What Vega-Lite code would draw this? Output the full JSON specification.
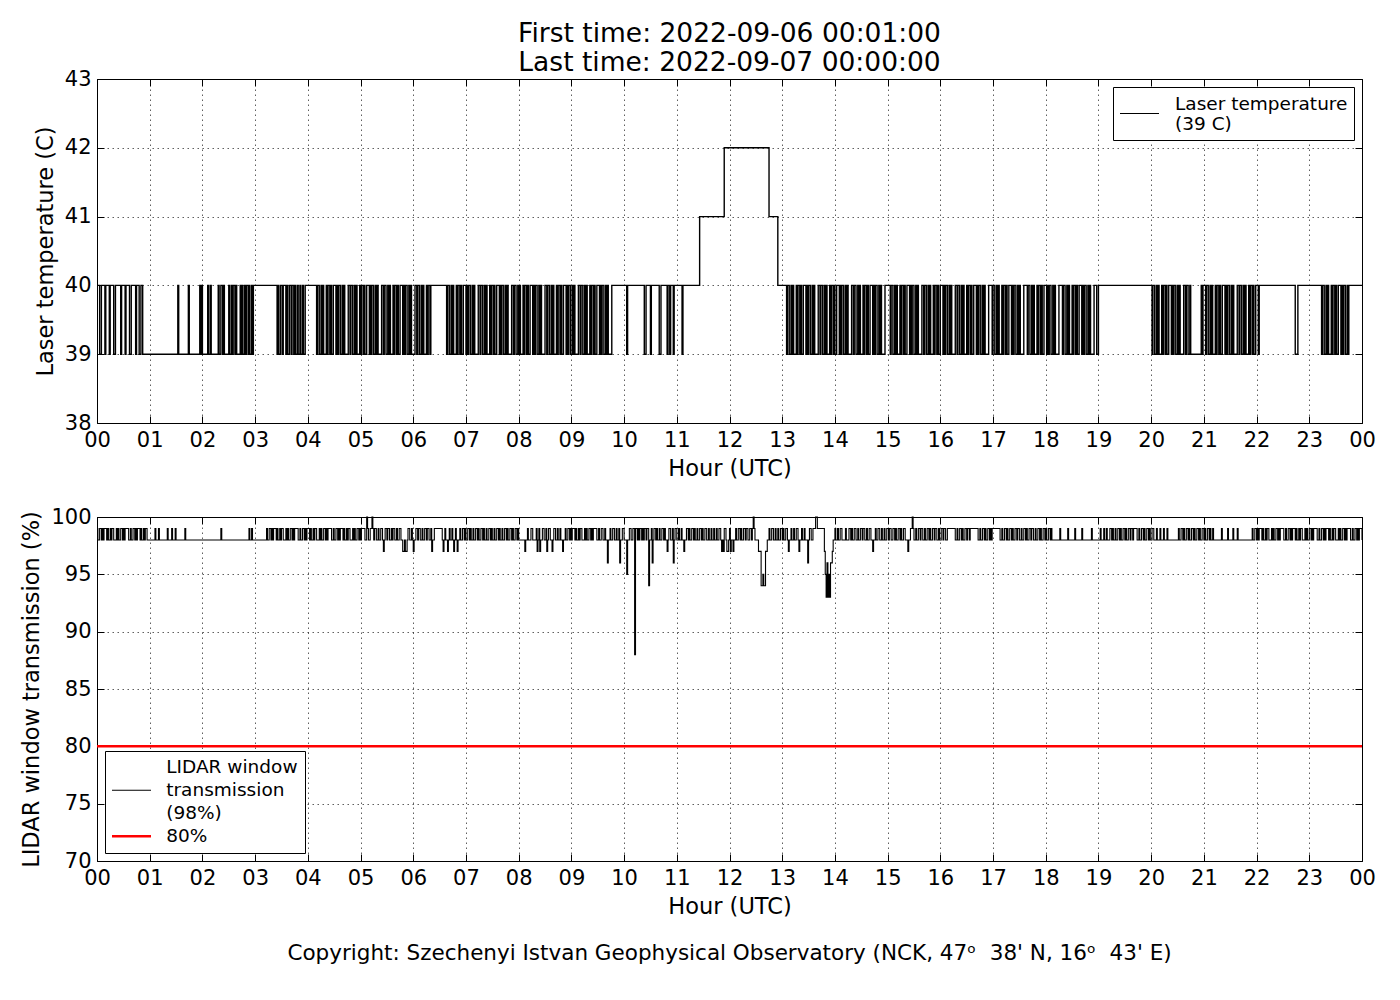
{
  "$schema": "https://vega.github.io/schema/vega-lite/v6.json",
  "background": "white",
  "padding": {"left": 20, "top": 20, "right": 30, "bottom": 20},
  "config": {
    "font": "DejaVu Sans",
    "view": {"stroke": "black", "strokeWidth": 1},
    "axis": {
      "domain": false, "ticks": true, "tickColor": "black", "tickSize": -7, "tickWidth": 1,
      "labelFontSize": 21, "labelColor": "black", "labelPadding": 13, "labelFlush": false, "labelOverlap": false,
      "titleFontSize": 22.5, "titleFontWeight": "normal", "titleColor": "black", "titlePadding": 7,
      "grid": true, "gridColor": "black", "gridDash": [1.5, 3.5], "gridWidth": 0.7, "gridOpacity": 0.9
    },
    "legend": {
      "labelFontSize": 18.5, "labelColor": "black", "labelLimit": 0, "symbolType": "stroke", "symbolSize": 1521,
      "labelOffset": 15, "padding": 6, "strokeColor": "black", "fillColor": "white", "cornerRadius": 0, "offset": 8
    },
    "title": {"fontWeight": "normal", "color": "black", "anchor": "middle"}
  },
  "datasets": {
    "temp": [
      {"m":0,"t":40},{"m":3,"t":39},{"m":5,"t":40},{"m":9,"t":39},{"m":10,"t":40},{"m":14,"t":39},{"m":15,"t":40},{"m":19,"t":39},{"m":21,"t":40},{"m":27,"t":39},{"m":28,"t":40},{"m":32,"t":39},{"m":33,"t":40},{"m":37,"t":39},{"m":39,"t":40},{"m":44,"t":39},{"m":45,"t":40},{"m":48,"t":39},{"m":50,"t":40},{"m":52,"t":39},
      {"m":92,"t":40},{"m":93,"t":39},{"m":104,"t":40},{"m":105,"t":39},{"m":117,"t":40},{"m":118,"t":39},{"m":119,"t":40},{"m":120,"t":39},{"m":126,"t":40},{"m":127,"t":39},{"m":129,"t":40},{"m":130,"t":39},{"m":138,"t":40},{"m":139,"t":39},{"m":141,"t":40},{"m":143,"t":39},{"m":144,"t":40},{"m":145,"t":39},{"m":150,"t":40},{"m":151,"t":39},{"m":153,"t":40},{"m":154,"t":39},{"m":155,"t":40},{"m":157,"t":39},{"m":158,"t":40},{"m":159,"t":39},{"m":163,"t":40},{"m":164,"t":39},{"m":165,"t":40},{"m":166,"t":39},{"m":168,"t":40},{"m":169,"t":39},{"m":170,"t":40},{"m":172,"t":39},{"m":173,"t":40},{"m":174,"t":39},{"m":176,"t":40},{"m":177,"t":39},{"m":178,"t":40},
      {"m":205,"t":39},{"m":206,"t":40},{"m":207,"t":39},{"m":209,"t":40},{"m":211,"t":39},{"m":212,"t":40},{"m":215,"t":39},{"m":216,"t":40},{"m":217,"t":39},{"m":219,"t":40},{"m":221,"t":39},{"m":222,"t":40},{"m":224,"t":39},{"m":225,"t":40},{"m":226,"t":39},{"m":228,"t":40},{"m":229,"t":39},{"m":231,"t":40},{"m":232,"t":39},{"m":234,"t":40},{"m":235,"t":39},{"m":237,"t":40},
      {"m":250,"t":39},{"m":251,"t":40},{"m":253,"t":39},{"m":255,"t":40},{"m":256,"t":39},{"m":257,"t":40},{"m":258,"t":39},{"m":261,"t":40},{"m":262,"t":39},{"m":263,"t":40},{"m":265,"t":39},{"m":266,"t":40},{"m":267,"t":39},{"m":269,"t":40},{"m":272,"t":39},{"m":273,"t":40},{"m":274,"t":39},{"m":275,"t":40},{"m":277,"t":39},{"m":279,"t":40},{"m":280,"t":39},{"m":281,"t":40},{"m":282,"t":39},{"m":286,"t":40},
      {"m":288,"t":39},{"m":289,"t":40},{"m":291,"t":39},{"m":293,"t":40},{"m":294,"t":39},{"m":295,"t":40},{"m":296,"t":39},{"m":299,"t":40},{"m":300,"t":39},{"m":301,"t":40},{"m":303,"t":39},{"m":304,"t":40},{"m":305,"t":39},{"m":307,"t":40},{"m":310,"t":39},{"m":311,"t":40},{"m":312,"t":39},{"m":313,"t":40},{"m":315,"t":39},{"m":317,"t":40},{"m":318,"t":39},{"m":319,"t":40},{"m":320,"t":39},{"m":324,"t":40},
      {"m":326,"t":39},{"m":327,"t":40},{"m":329,"t":39},{"m":331,"t":40},{"m":332,"t":39},{"m":333,"t":40},{"m":334,"t":39},{"m":337,"t":40},{"m":338,"t":39},{"m":339,"t":40},{"m":341,"t":39},{"m":342,"t":40},{"m":343,"t":39},{"m":345,"t":40},{"m":348,"t":39},{"m":349,"t":40},{"m":350,"t":39},{"m":351,"t":40},{"m":353,"t":39},{"m":355,"t":40},{"m":356,"t":39},{"m":357,"t":40},{"m":358,"t":39},{"m":362,"t":40},
      {"m":364,"t":39},{"m":365,"t":40},{"m":367,"t":39},{"m":369,"t":40},{"m":370,"t":39},{"m":371,"t":40},{"m":372,"t":39},{"m":375,"t":40},{"m":376,"t":39},{"m":377,"t":40},{"m":379,"t":39},{"m":380,"t":40},
      {"m":398,"t":39},{"m":399,"t":40},{"m":401,"t":39},{"m":403,"t":40},{"m":404,"t":39},{"m":405,"t":40},{"m":406,"t":39},{"m":409,"t":40},{"m":410,"t":39},{"m":411,"t":40},{"m":413,"t":39},{"m":414,"t":40},{"m":415,"t":39},{"m":417,"t":40},{"m":420,"t":39},{"m":421,"t":40},{"m":422,"t":39},{"m":423,"t":40},{"m":425,"t":39},{"m":427,"t":40},{"m":428,"t":39},{"m":429,"t":40},{"m":430,"t":39},{"m":434,"t":40},
      {"m":436,"t":39},{"m":437,"t":40},{"m":439,"t":39},{"m":441,"t":40},{"m":442,"t":39},{"m":443,"t":40},{"m":444,"t":39},{"m":447,"t":40},{"m":448,"t":39},{"m":449,"t":40},{"m":451,"t":39},{"m":452,"t":40},{"m":453,"t":39},{"m":455,"t":40},{"m":458,"t":39},{"m":459,"t":40},{"m":460,"t":39},{"m":461,"t":40},{"m":463,"t":39},{"m":465,"t":40},{"m":466,"t":39},{"m":467,"t":40},{"m":468,"t":39},{"m":472,"t":40},
      {"m":474,"t":39},{"m":475,"t":40},{"m":477,"t":39},{"m":479,"t":40},{"m":480,"t":39},{"m":481,"t":40},{"m":482,"t":39},{"m":485,"t":40},{"m":486,"t":39},{"m":487,"t":40},{"m":489,"t":39},{"m":490,"t":40},{"m":491,"t":39},{"m":493,"t":40},{"m":496,"t":39},{"m":497,"t":40},{"m":498,"t":39},{"m":499,"t":40},{"m":501,"t":39},{"m":503,"t":40},{"m":504,"t":39},{"m":505,"t":40},{"m":506,"t":39},{"m":510,"t":40},
      {"m":512,"t":39},{"m":513,"t":40},{"m":515,"t":39},{"m":517,"t":40},{"m":518,"t":39},{"m":519,"t":40},{"m":520,"t":39},{"m":523,"t":40},{"m":524,"t":39},{"m":525,"t":40},{"m":527,"t":39},{"m":528,"t":40},{"m":529,"t":39},{"m":531,"t":40},{"m":534,"t":39},{"m":535,"t":40},{"m":536,"t":39},{"m":537,"t":40},{"m":539,"t":39},{"m":541,"t":40},{"m":542,"t":39},{"m":543,"t":40},{"m":544,"t":39},{"m":548,"t":40},
      {"m":550,"t":39},{"m":551,"t":40},{"m":553,"t":39},{"m":555,"t":40},{"m":556,"t":39},{"m":557,"t":40},{"m":558,"t":39},{"m":561,"t":40},{"m":562,"t":39},{"m":563,"t":40},{"m":565,"t":39},{"m":566,"t":40},{"m":567,"t":39},{"m":569,"t":40},{"m":572,"t":39},{"m":573,"t":40},{"m":574,"t":39},{"m":575,"t":40},{"m":577,"t":39},{"m":579,"t":40},{"m":580,"t":39},{"m":581,"t":40},{"m":582,"t":39},{"m":586,"t":40},
      {"m":603,"t":39},{"m":604,"t":40},{"m":623,"t":39},{"m":625,"t":40},{"m":630,"t":39},{"m":631,"t":40},{"m":640,"t":39},{"m":642,"t":40},{"m":649,"t":39},{"m":650,"t":40},{"m":652,"t":39},{"m":653,"t":40},{"m":656,"t":39},{"m":657,"t":40},{"m":666,"t":39},{"m":667,"t":40},
      {"m":686,"t":41},{"m":714,"t":42},{"m":765,"t":41},{"m":775,"t":40},
      {"m":785,"t":39},{"m":786,"t":40},{"m":788,"t":39},{"m":790,"t":40},{"m":791,"t":39},{"m":792,"t":40},{"m":793,"t":39},{"m":796,"t":40},{"m":797,"t":39},{"m":798,"t":40},{"m":800,"t":39},{"m":801,"t":40},{"m":802,"t":39},{"m":804,"t":40},{"m":807,"t":39},{"m":808,"t":40},{"m":809,"t":39},{"m":810,"t":40},{"m":812,"t":39},{"m":814,"t":40},{"m":815,"t":39},{"m":816,"t":40},{"m":817,"t":39},{"m":821,"t":40},
      {"m":823,"t":39},{"m":824,"t":40},{"m":826,"t":39},{"m":828,"t":40},{"m":829,"t":39},{"m":830,"t":40},{"m":831,"t":39},{"m":834,"t":40},{"m":835,"t":39},{"m":836,"t":40},{"m":838,"t":39},{"m":839,"t":40},{"m":840,"t":39},{"m":842,"t":40},{"m":845,"t":39},{"m":846,"t":40},{"m":847,"t":39},{"m":848,"t":40},{"m":850,"t":39},{"m":852,"t":40},{"m":853,"t":39},{"m":854,"t":40},{"m":855,"t":39},{"m":859,"t":40},
      {"m":861,"t":39},{"m":862,"t":40},{"m":864,"t":39},{"m":866,"t":40},{"m":867,"t":39},{"m":868,"t":40},{"m":869,"t":39},{"m":872,"t":40},{"m":873,"t":39},{"m":874,"t":40},{"m":876,"t":39},{"m":877,"t":40},{"m":878,"t":39},{"m":880,"t":40},{"m":883,"t":39},{"m":884,"t":40},{"m":885,"t":39},{"m":886,"t":40},{"m":888,"t":39},{"m":890,"t":40},{"m":891,"t":39},{"m":892,"t":40},{"m":893,"t":39},{"m":897,"t":40},
      {"m":903,"t":39},{"m":904,"t":40},{"m":906,"t":39},{"m":908,"t":40},{"m":909,"t":39},{"m":910,"t":40},{"m":911,"t":39},{"m":914,"t":40},{"m":915,"t":39},{"m":916,"t":40},{"m":918,"t":39},{"m":919,"t":40},{"m":920,"t":39},{"m":922,"t":40},{"m":925,"t":39},{"m":926,"t":40},{"m":927,"t":39},{"m":928,"t":40},{"m":930,"t":39},{"m":932,"t":40},{"m":933,"t":39},{"m":934,"t":40},{"m":935,"t":39},{"m":939,"t":40},
      {"m":941,"t":39},{"m":942,"t":40},{"m":944,"t":39},{"m":946,"t":40},{"m":947,"t":39},{"m":948,"t":40},{"m":949,"t":39},{"m":952,"t":40},{"m":953,"t":39},{"m":954,"t":40},{"m":956,"t":39},{"m":957,"t":40},{"m":958,"t":39},{"m":960,"t":40},{"m":963,"t":39},{"m":964,"t":40},{"m":965,"t":39},{"m":966,"t":40},{"m":968,"t":39},{"m":970,"t":40},{"m":971,"t":39},{"m":972,"t":40},{"m":973,"t":39},{"m":977,"t":40},
      {"m":979,"t":39},{"m":980,"t":40},{"m":982,"t":39},{"m":984,"t":40},{"m":985,"t":39},{"m":986,"t":40},{"m":987,"t":39},{"m":990,"t":40},{"m":991,"t":39},{"m":992,"t":40},{"m":994,"t":39},{"m":995,"t":40},{"m":996,"t":39},{"m":998,"t":40},{"m":1001,"t":39},{"m":1002,"t":40},{"m":1003,"t":39},{"m":1004,"t":40},{"m":1006,"t":39},{"m":1008,"t":40},{"m":1009,"t":39},{"m":1010,"t":40},{"m":1011,"t":39},{"m":1015,"t":40},
      {"m":1019,"t":39},{"m":1020,"t":40},{"m":1022,"t":39},{"m":1024,"t":40},{"m":1025,"t":39},{"m":1026,"t":40},{"m":1027,"t":39},{"m":1030,"t":40},{"m":1031,"t":39},{"m":1032,"t":40},{"m":1034,"t":39},{"m":1035,"t":40},{"m":1036,"t":39},{"m":1038,"t":40},{"m":1041,"t":39},{"m":1042,"t":40},{"m":1043,"t":39},{"m":1044,"t":40},{"m":1046,"t":39},{"m":1048,"t":40},{"m":1049,"t":39},{"m":1050,"t":40},{"m":1051,"t":39},{"m":1055,"t":40},
      {"m":1059,"t":39},{"m":1060,"t":40},{"m":1062,"t":39},{"m":1064,"t":40},{"m":1065,"t":39},{"m":1066,"t":40},{"m":1067,"t":39},{"m":1070,"t":40},{"m":1071,"t":39},{"m":1072,"t":40},{"m":1074,"t":39},{"m":1075,"t":40},{"m":1076,"t":39},{"m":1078,"t":40},{"m":1081,"t":39},{"m":1082,"t":40},{"m":1083,"t":39},{"m":1084,"t":40},{"m":1086,"t":39},{"m":1088,"t":40},{"m":1089,"t":39},{"m":1090,"t":40},{"m":1091,"t":39},{"m":1095,"t":40},
      {"m":1099,"t":39},{"m":1100,"t":40},{"m":1102,"t":39},{"m":1104,"t":40},{"m":1105,"t":39},{"m":1106,"t":40},{"m":1107,"t":39},{"m":1110,"t":40},{"m":1111,"t":39},{"m":1112,"t":40},{"m":1114,"t":39},{"m":1115,"t":40},{"m":1116,"t":39},{"m":1118,"t":40},{"m":1121,"t":39},{"m":1122,"t":40},{"m":1123,"t":39},{"m":1124,"t":40},{"m":1126,"t":39},{"m":1128,"t":40},{"m":1129,"t":39},{"m":1130,"t":40},{"m":1131,"t":39},{"m":1135,"t":40},{"m":1138,"t":39},{"m":1140,"t":40},
      {"m":1201,"t":39},{"m":1202,"t":40},{"m":1204,"t":39},{"m":1206,"t":40},{"m":1207,"t":39},{"m":1208,"t":40},{"m":1209,"t":39},{"m":1212,"t":40},{"m":1213,"t":39},{"m":1214,"t":40},{"m":1216,"t":39},{"m":1217,"t":40},{"m":1218,"t":39},{"m":1220,"t":40},{"m":1223,"t":39},{"m":1224,"t":40},{"m":1225,"t":39},{"m":1226,"t":40},{"m":1228,"t":39},{"m":1230,"t":40},{"m":1231,"t":39},{"m":1232,"t":40},{"m":1233,"t":39},{"m":1237,"t":40},
      {"m":1239,"t":39},{"m":1240,"t":40},{"m":1242,"t":39},{"m":1244,"t":40},{"m":1245,"t":39},{"m":1257,"t":40},{"m":1258,"t":39},{"m":1259,"t":40},
      {"m":1262,"t":39},{"m":1263,"t":40},{"m":1265,"t":39},{"m":1267,"t":40},{"m":1268,"t":39},{"m":1269,"t":40},{"m":1270,"t":39},{"m":1273,"t":40},{"m":1274,"t":39},{"m":1275,"t":40},{"m":1277,"t":39},{"m":1278,"t":40},{"m":1279,"t":39},{"m":1281,"t":40},{"m":1284,"t":39},{"m":1285,"t":40},{"m":1286,"t":39},{"m":1287,"t":40},{"m":1289,"t":39},{"m":1291,"t":40},{"m":1292,"t":39},{"m":1293,"t":40},{"m":1294,"t":39},{"m":1298,"t":40},
      {"m":1300,"t":39},{"m":1301,"t":40},{"m":1303,"t":39},{"m":1305,"t":40},{"m":1306,"t":39},{"m":1307,"t":40},{"m":1308,"t":39},{"m":1311,"t":40},{"m":1312,"t":39},{"m":1313,"t":40},{"m":1315,"t":39},{"m":1316,"t":40},{"m":1317,"t":39},{"m":1319,"t":40},{"m":1322,"t":39},{"m":1323,"t":40},
      {"m":1364,"t":39},{"m":1367,"t":40},
      {"m":1394,"t":39},{"m":1395,"t":40},{"m":1397,"t":39},{"m":1399,"t":40},{"m":1400,"t":39},{"m":1401,"t":40},{"m":1402,"t":39},{"m":1405,"t":40},{"m":1406,"t":39},{"m":1407,"t":40},{"m":1409,"t":39},{"m":1410,"t":40},{"m":1411,"t":39},{"m":1413,"t":40},{"m":1416,"t":39},{"m":1417,"t":40},{"m":1418,"t":39},{"m":1419,"t":40},{"m":1421,"t":39},{"m":1423,"t":40},{"m":1424,"t":39},{"m":1425,"t":40},{"m":1440,"t":40}
    ],
    "trans": [
      {"m":0,"p":99},{"m":1,"p":98},{"m":3,"p":99},{"m":5,"p":98},{"m":6,"p":99},{"m":7,"p":98},{"m":8,"p":99},{"m":11,"p":98},{"m":12,"p":99},{"m":13,"p":98},{"m":15,"p":99},{"m":16,"p":98},{"m":17,"p":99},{"m":19,"p":98},{"m":22,"p":99},{"m":23,"p":98},{"m":24,"p":99},{"m":25,"p":98},{"m":27,"p":99},{"m":29,"p":98},{"m":30,"p":99},{"m":31,"p":98},{"m":32,"p":99},{"m":36,"p":98},
      {"m":38,"p":99},{"m":39,"p":98},{"m":41,"p":99},{"m":43,"p":98},{"m":44,"p":99},{"m":45,"p":98},{"m":46,"p":99},{"m":49,"p":98},{"m":50,"p":99},{"m":51,"p":98},{"m":53,"p":99},{"m":54,"p":98},{"m":55,"p":99},{"m":57,"p":98},
      {"m":66,"p":99},{"m":67,"p":98},{"m":70,"p":99},{"m":71,"p":98},{"m":80,"p":99},{"m":81,"p":98},{"m":85,"p":99},{"m":86,"p":98},{"m":89,"p":99},{"m":90,"p":98},{"m":100,"p":99},{"m":101,"p":98},{"m":141,"p":99},{"m":142,"p":98},{"m":173,"p":99},{"m":174,"p":98},{"m":176,"p":99},{"m":177,"p":98},
      {"m":193,"p":99},{"m":194,"p":98},{"m":196,"p":99},{"m":198,"p":98},{"m":199,"p":99},{"m":200,"p":98},{"m":201,"p":99},{"m":204,"p":98},{"m":205,"p":99},{"m":206,"p":98},{"m":208,"p":99},{"m":209,"p":98},{"m":210,"p":99},{"m":212,"p":98},{"m":215,"p":99},{"m":216,"p":98},{"m":217,"p":99},{"m":218,"p":98},{"m":220,"p":99},{"m":222,"p":98},{"m":223,"p":99},{"m":224,"p":98},{"m":225,"p":99},{"m":229,"p":98},
      {"m":231,"p":99},{"m":232,"p":98},{"m":234,"p":99},{"m":236,"p":98},{"m":237,"p":99},{"m":238,"p":98},{"m":239,"p":99},{"m":242,"p":98},{"m":243,"p":99},{"m":244,"p":98},{"m":246,"p":99},{"m":247,"p":98},{"m":248,"p":99},{"m":250,"p":98},{"m":253,"p":99},{"m":254,"p":98},{"m":255,"p":99},{"m":256,"p":98},{"m":258,"p":99},{"m":260,"p":98},{"m":261,"p":99},{"m":262,"p":98},{"m":263,"p":99},{"m":267,"p":98},
      {"m":269,"p":99},{"m":270,"p":98},{"m":272,"p":99},{"m":274,"p":98},{"m":275,"p":99},{"m":276,"p":98},{"m":277,"p":99},{"m":280,"p":98},{"m":281,"p":99},{"m":282,"p":98},{"m":284,"p":99},{"m":285,"p":98},{"m":286,"p":99},{"m":288,"p":98},{"m":291,"p":99},{"m":292,"p":98},{"m":293,"p":99},{"m":294,"p":98},{"m":296,"p":99},{"m":298,"p":98},{"m":299,"p":99},{"m":300,"p":98},{"m":301,"p":99},{"m":305,"p":98},
      {"m":307,"p":100},{"m":308,"p":99},{"m":309,"p":98},{"m":311,"p":99},{"m":313,"p":100},{"m":314,"p":99},{"m":315,"p":98},{"m":316,"p":99},{"m":318,"p":98},{"m":320,"p":99},{"m":321,"p":98},{"m":323,"p":99},{"m":325,"p":98},{"m":326,"p":97},{"m":327,"p":98},{"m":328,"p":99},{"m":330,"p":98},{"m":331,"p":99},{"m":333,"p":98},{"m":335,"p":99},{"m":336,"p":98},{"m":337,"p":99},{"m":339,"p":98},{"m":341,"p":99},{"m":342,"p":98},{"m":344,"p":99},{"m":346,"p":98},{"m":348,"p":97},{"m":350,"p":98},{"m":351,"p":97},{"m":353,"p":98},{"m":354,"p":99},{"m":356,"p":98},{"m":358,"p":99},{"m":359,"p":98},{"m":360,"p":97},{"m":361,"p":98},{"m":363,"p":99},{"m":365,"p":98},{"m":366,"p":99},{"m":368,"p":98},{"m":370,"p":99},{"m":371,"p":98},{"m":373,"p":99},{"m":375,"p":98},{"m":376,"p":99},{"m":378,"p":98},{"m":380,"p":99},{"m":381,"p":97},{"m":382,"p":98},{"m":384,"p":99},
      {"m":393,"p":98},{"m":394,"p":97},{"m":395,"p":98},{"m":396,"p":99},{"m":397,"p":98},{"m":399,"p":97},{"m":400,"p":98},{"m":401,"p":99},{"m":402,"p":98},{"m":404,"p":99},{"m":405,"p":98},{"m":406,"p":97},{"m":407,"p":98},{"m":408,"p":99},{"m":409,"p":98},{"m":410,"p":97},{"m":411,"p":98},{"m":413,"p":99},{"m":414,"p":98},{"m":416,"p":99},{"m":418,"p":98},{"m":419,"p":99},{"m":420,"p":98},{"m":422,"p":99},{"m":424,"p":98},{"m":425,"p":99},{"m":426,"p":98},{"m":428,"p":99},{"m":429,"p":98},{"m":431,"p":99},{"m":433,"p":98},{"m":434,"p":99},{"m":435,"p":98},{"m":437,"p":99},{"m":439,"p":98},{"m":440,"p":99},{"m":441,"p":98},{"m":443,"p":99},{"m":444,"p":98},{"m":446,"p":99},{"m":448,"p":98},{"m":449,"p":99},{"m":450,"p":98},{"m":452,"p":99},{"m":453,"p":98},{"m":455,"p":99},{"m":457,"p":98},{"m":458,"p":99},{"m":459,"p":98},{"m":461,"p":99},{"m":462,"p":98},{"m":464,"p":99},{"m":466,"p":98},{"m":467,"p":99},{"m":468,"p":98},{"m":470,"p":99},{"m":472,"p":98},{"m":473,"p":99},{"m":474,"p":98},{"m":476,"p":99},{"m":478,"p":98},{"m":479,"p":99},{"m":480,"p":98},
      {"m":487,"p":97},{"m":488,"p":98},{"m":490,"p":99},{"m":491,"p":98},{"m":494,"p":99},{"m":496,"p":98},{"m":500,"p":99},{"m":501,"p":97},{"m":502,"p":98},{"m":503,"p":99},{"m":504,"p":97},{"m":505,"p":98},{"m":507,"p":99},{"m":509,"p":98},{"m":511,"p":99},{"m":512,"p":97},{"m":513,"p":98},{"m":514,"p":99},{"m":516,"p":98},{"m":518,"p":97},{"m":519,"p":98},{"m":520,"p":99},{"m":522,"p":98},{"m":524,"p":99},{"m":525,"p":98},{"m":527,"p":99},{"m":528,"p":98},{"m":530,"p":97},{"m":531,"p":98},
      {"m":533,"p":99},{"m":534,"p":98},{"m":536,"p":99},{"m":538,"p":98},{"m":539,"p":99},{"m":540,"p":98},{"m":541,"p":99},{"m":544,"p":98},{"m":545,"p":99},{"m":546,"p":98},{"m":548,"p":99},{"m":549,"p":98},{"m":550,"p":99},{"m":552,"p":98},{"m":555,"p":99},{"m":556,"p":98},{"m":557,"p":99},{"m":558,"p":98},{"m":560,"p":99},{"m":562,"p":98},{"m":563,"p":99},{"m":564,"p":98},{"m":565,"p":99},{"m":569,"p":98},
      {"m":571,"p":99},{"m":572,"p":98},{"m":574,"p":99},{"m":576,"p":98},{"m":578,"p":99},{"m":579,"p":98},{"m":581,"p":96},{"m":582,"p":98},{"m":584,"p":99},{"m":585,"p":98},{"m":587,"p":99},{"m":589,"p":98},{"m":591,"p":99},{"m":592,"p":98},{"m":594,"p":99},{"m":595,"p":96},{"m":596,"p":98},{"m":598,"p":99},{"m":600,"p":98},{"m":603,"p":95},{"m":604,"p":98},{"m":606,"p":99},{"m":608,"p":98},{"m":610,"p":99},{"m":612,"p":88},{"m":613,"p":99},{"m":615,"p":98},{"m":616,"p":99},{"m":617,"p":98},{"m":618,"p":99},{"m":620,"p":98},
      {"m":621,"p":99},{"m":622,"p":98},{"m":623,"p":99},{"m":625,"p":98},{"m":626,"p":99},{"m":628,"p":94},{"m":629,"p":98},{"m":631,"p":99},{"m":632,"p":96},{"m":633,"p":98},{"m":634,"p":99},{"m":636,"p":98},{"m":637,"p":99},{"m":638,"p":98},{"m":640,"p":99},{"m":641,"p":98},{"m":643,"p":99},{"m":645,"p":98},{"m":646,"p":99},{"m":647,"p":98},{"m":649,"p":97},{"m":650,"p":98},{"m":651,"p":99},{"m":653,"p":98},{"m":655,"p":99},{"m":656,"p":96},{"m":657,"p":98},{"m":658,"p":99},{"m":660,"p":98},{"m":662,"p":99},{"m":663,"p":98},{"m":665,"p":99},{"m":666,"p":98},{"m":668,"p":97},{"m":669,"p":98},{"m":671,"p":99},{"m":673,"p":98},{"m":674,"p":99},{"m":675,"p":98},{"m":677,"p":99},{"m":679,"p":98},{"m":680,"p":99},{"m":681,"p":98},{"m":683,"p":99},{"m":684,"p":98},{"m":686,"p":99},{"m":688,"p":98},{"m":689,"p":99},{"m":690,"p":98},{"m":692,"p":99},{"m":694,"p":98},
      {"m":696,"p":99},{"m":697,"p":98},{"m":699,"p":99},{"m":700,"p":98},{"m":702,"p":99},{"m":703,"p":98},{"m":705,"p":99},{"m":706,"p":98},{"m":708,"p":99},{"m":710,"p":98},{"m":711,"p":97},{"m":712,"p":98},{"m":713,"p":97},{"m":714,"p":99},{"m":716,"p":98},{"m":717,"p":97},{"m":719,"p":98},{"m":720,"p":99},{"m":721,"p":97},{"m":722,"p":98},{"m":724,"p":97},{"m":725,"p":98},{"m":727,"p":99},{"m":728,"p":98},{"m":730,"p":99},{"m":732,"p":98},{"m":733,"p":99},{"m":734,"p":98},{"m":736,"p":99},{"m":738,"p":98},{"m":739,"p":99},{"m":741,"p":98},{"m":743,"p":99},{"m":745,"p":98},{"m":746,"p":99},{"m":747,"p":100},{"m":748,"p":99},{"m":749,"p":98},
      {"m":753,"p":97},{"m":756,"p":94},{"m":758,"p":95},{"m":759,"p":94},{"m":761,"p":97},{"m":763,"p":98},{"m":765,"p":99},{"m":766,"p":98},{"m":768,"p":99},{"m":770,"p":98},{"m":772,"p":99},{"m":773,"p":98},
      {"m":775,"p":99},{"m":776,"p":98},{"m":778,"p":99},{"m":780,"p":98},{"m":781,"p":99},{"m":782,"p":98},{"m":784,"p":99},{"m":786,"p":98},{"m":787,"p":97},{"m":788,"p":98},{"m":790,"p":99},{"m":791,"p":98},{"m":793,"p":99},{"m":794,"p":98},{"m":796,"p":99},{"m":798,"p":98},{"m":799,"p":97},{"m":800,"p":98},{"m":802,"p":99},{"m":803,"p":98},{"m":805,"p":99},{"m":806,"p":98},{"m":809,"p":96},{"m":810,"p":98},{"m":811,"p":99},{"m":813,"p":98},{"m":815,"p":99},{"m":818,"p":100},{"m":820,"p":99},
      {"m":828,"p":97},{"m":829,"p":95},{"m":830,"p":93},{"m":831,"p":96},{"m":832,"p":93},{"m":833,"p":95},{"m":834,"p":93},{"m":835,"p":96},{"m":837,"p":97},{"m":838,"p":98},{"m":840,"p":99},{"m":841,"p":98},{"m":843,"p":99},{"m":844,"p":98},{"m":846,"p":99},{"m":848,"p":98},
      {"m":852,"p":99},{"m":853,"p":98},{"m":856,"p":99},{"m":858,"p":98},{"m":859,"p":99},{"m":860,"p":98},{"m":862,"p":99},{"m":864,"p":98},{"m":866,"p":99},{"m":867,"p":98},{"m":869,"p":99},{"m":871,"p":98},{"m":872,"p":99},{"m":874,"p":98},{"m":876,"p":99},{"m":877,"p":98},{"m":879,"p":99},{"m":881,"p":98},{"m":883,"p":97},{"m":884,"p":98},{"m":886,"p":99},{"m":887,"p":98},{"m":889,"p":99},{"m":891,"p":98},{"m":893,"p":99},{"m":894,"p":98},{"m":896,"p":99},{"m":897,"p":98},{"m":899,"p":99},{"m":901,"p":98},{"m":902,"p":99},{"m":904,"p":98},{"m":906,"p":99},{"m":908,"p":98},{"m":909,"p":99},{"m":910,"p":98},{"m":912,"p":99},{"m":914,"p":98},{"m":915,"p":99},{"m":916,"p":98},{"m":918,"p":99},{"m":920,"p":98},{"m":923,"p":97},{"m":924,"p":98},{"m":926,"p":99},{"m":928,"p":100},{"m":929,"p":99},{"m":930,"p":98},{"m":932,"p":99},{"m":933,"p":98},{"m":935,"p":99},{"m":937,"p":98},{"m":938,"p":99},{"m":940,"p":98},{"m":942,"p":99},{"m":943,"p":98},{"m":945,"p":99},{"m":947,"p":98},{"m":948,"p":99},{"m":949,"p":98},{"m":951,"p":99},{"m":953,"p":98},{"m":954,"p":99},{"m":956,"p":98},{"m":958,"p":99},{"m":959,"p":98},{"m":961,"p":99},{"m":963,"p":98},{"m":964,"p":99},{"m":966,"p":98},
      {"m":968,"p":99},{"m":977,"p":98},{"m":979,"p":99},{"m":980,"p":98},{"m":982,"p":99},{"m":984,"p":98},{"m":985,"p":99},{"m":986,"p":98},{"m":988,"p":99},{"m":990,"p":98},{"m":991,"p":99},{"m":993,"p":98},{"m":994,"p":99},{"m":1003,"p":98},{"m":1005,"p":99},{"m":1006,"p":98},{"m":1008,"p":99},{"m":1010,"p":98},{"m":1011,"p":99},{"m":1012,"p":98},{"m":1014,"p":99},{"m":1016,"p":98},{"m":1017,"p":99},{"m":1018,"p":98},{"m":1019,"p":99},{"m":1028,"p":98},{"m":1030,"p":99},{"m":1031,"p":98},{"m":1033,"p":99},{"m":1035,"p":98},{"m":1036,"p":99},{"m":1037,"p":98},{"m":1039,"p":99},{"m":1041,"p":98},{"m":1042,"p":99},{"m":1043,"p":98},{"m":1045,"p":99},{"m":1047,"p":98},{"m":1048,"p":99},{"m":1050,"p":98},{"m":1052,"p":99},{"m":1053,"p":98},{"m":1055,"p":99},{"m":1057,"p":98},{"m":1058,"p":99},{"m":1059,"p":98},{"m":1061,"p":99},{"m":1063,"p":98},{"m":1064,"p":99},{"m":1066,"p":98},{"m":1068,"p":99},{"m":1069,"p":98},{"m":1071,"p":99},{"m":1073,"p":98},{"m":1074,"p":99},{"m":1075,"p":98},{"m":1077,"p":99},{"m":1079,"p":98},{"m":1080,"p":99},{"m":1081,"p":98},{"m":1083,"p":99},{"m":1085,"p":98},{"m":1086,"p":99},{"m":1087,"p":98},
      {"m":1096,"p":99},{"m":1097,"p":98},{"m":1105,"p":99},{"m":1106,"p":98},{"m":1113,"p":99},{"m":1114,"p":98},{"m":1121,"p":99},{"m":1122,"p":98},{"m":1132,"p":99},{"m":1133,"p":98},
      {"m":1142,"p":99},{"m":1143,"p":98},{"m":1146,"p":99},{"m":1147,"p":98},{"m":1149,"p":99},{"m":1150,"p":98},{"m":1153,"p":99},{"m":1155,"p":98},{"m":1156,"p":99},{"m":1157,"p":98},{"m":1159,"p":99},{"m":1160,"p":98},{"m":1162,"p":99},{"m":1164,"p":98},{"m":1165,"p":99},{"m":1166,"p":98},{"m":1168,"p":99},{"m":1170,"p":98},{"m":1171,"p":99},{"m":1172,"p":98},{"m":1174,"p":99},{"m":1176,"p":98},{"m":1177,"p":99},{"m":1179,"p":98},{"m":1180,"p":99},{"m":1184,"p":98},{"m":1186,"p":99},{"m":1187,"p":98},{"m":1189,"p":99},{"m":1191,"p":98},{"m":1192,"p":99},{"m":1193,"p":98},{"m":1195,"p":99},{"m":1197,"p":98},{"m":1198,"p":99},{"m":1199,"p":98},{"m":1201,"p":99},{"m":1203,"p":98},{"m":1206,"p":99},{"m":1207,"p":98},{"m":1210,"p":99},{"m":1211,"p":98},{"m":1214,"p":99},{"m":1215,"p":98},{"m":1218,"p":99},{"m":1219,"p":98},
      {"m":1231,"p":99},{"m":1232,"p":98},{"m":1234,"p":99},{"m":1236,"p":98},{"m":1237,"p":99},{"m":1238,"p":98},{"m":1240,"p":99},{"m":1242,"p":98},{"m":1243,"p":99},{"m":1244,"p":98},{"m":1246,"p":99},{"m":1248,"p":98},{"m":1249,"p":99},{"m":1250,"p":98},{"m":1252,"p":99},{"m":1254,"p":98},{"m":1255,"p":99},{"m":1256,"p":98},{"m":1258,"p":99},{"m":1260,"p":98},{"m":1261,"p":99},{"m":1262,"p":98},{"m":1264,"p":99},{"m":1266,"p":98},{"m":1267,"p":99},{"m":1268,"p":98},{"m":1270,"p":99},{"m":1271,"p":98},
      {"m":1280,"p":99},{"m":1281,"p":98},{"m":1287,"p":99},{"m":1288,"p":98},{"m":1293,"p":99},{"m":1294,"p":98},{"m":1298,"p":99},{"m":1299,"p":98},
      {"m":1315,"p":99},{"m":1316,"p":98},{"m":1318,"p":99},{"m":1320,"p":98},{"m":1321,"p":99},{"m":1322,"p":98},{"m":1323,"p":99},{"m":1326,"p":98},{"m":1327,"p":99},{"m":1328,"p":98},{"m":1330,"p":99},{"m":1331,"p":98},{"m":1332,"p":99},{"m":1334,"p":98},{"m":1337,"p":99},{"m":1338,"p":98},{"m":1339,"p":99},{"m":1340,"p":98},{"m":1342,"p":99},{"m":1344,"p":98},{"m":1345,"p":99},{"m":1346,"p":98},{"m":1347,"p":99},{"m":1351,"p":98},
      {"m":1353,"p":99},{"m":1354,"p":98},{"m":1356,"p":99},{"m":1358,"p":98},{"m":1359,"p":99},{"m":1360,"p":98},{"m":1361,"p":99},{"m":1364,"p":98},{"m":1365,"p":99},{"m":1366,"p":98},{"m":1368,"p":99},{"m":1369,"p":98},{"m":1370,"p":99},{"m":1372,"p":98},{"m":1375,"p":99},{"m":1376,"p":98},{"m":1377,"p":99},{"m":1378,"p":98},{"m":1380,"p":99},{"m":1382,"p":98},{"m":1383,"p":99},{"m":1384,"p":98},{"m":1385,"p":99},{"m":1389,"p":98},
      {"m":1391,"p":99},{"m":1392,"p":98},{"m":1394,"p":99},{"m":1396,"p":98},{"m":1397,"p":99},{"m":1398,"p":98},{"m":1399,"p":99},{"m":1402,"p":98},{"m":1403,"p":99},{"m":1404,"p":98},{"m":1406,"p":99},{"m":1407,"p":98},{"m":1408,"p":99},{"m":1410,"p":98},{"m":1413,"p":99},{"m":1414,"p":98},{"m":1415,"p":99},{"m":1416,"p":98},{"m":1418,"p":99},{"m":1420,"p":98},{"m":1421,"p":99},{"m":1422,"p":98},{"m":1423,"p":99},{"m":1427,"p":98},
      {"m":1429,"p":99},{"m":1430,"p":98},{"m":1432,"p":99},{"m":1434,"p":98},{"m":1435,"p":99},{"m":1436,"p":98},{"m":1437,"p":99},{"m":1440,"p":98}
    ],
    "limit": [{"m":0,"p":80},{"m":1440,"p":80}]
  },
  "vconcat": [
    {
      "width": 1265,
      "height": 344,
      "title": {
        "text": ["First time: 2022-09-06 00:01:00", "Last time: 2022-09-07 00:00:00"],
        "fontSize": 26.5, "lineHeight": 29, "offset": -8
      },
      "layer": [
        {
          "data": {"name": "temp"},
          "mark": {"type": "line", "interpolate": "step-after", "strokeWidth": 1.4},
          "encoding": {
            "x": {
              "field": "m", "type": "quantitative",
              "scale": {"domain": [0, 1440], "nice": false},
              "axis": {
                "orient": "bottom", "title": "Hour (UTC)",
                "values": [0,60,120,180,240,300,360,420,480,540,600,660,720,780,840,900,960,1020,1080,1140,1200,1260,1320,1380,1440],
                "labelExpr": "datum.value >= 1440 ? '00' : (datum.value < 600 ? '0' : '') + floor(datum.value / 60)"
              }
            },
            "y": {
              "field": "t", "type": "quantitative",
              "scale": {"domain": [38, 43], "nice": false, "zero": false},
              "axis": {"orient": "left", "title": "Laser temperature (C)", "values": [38,39,40,41,42,43]}
            },
            "color": {
              "datum": "Laser temperature|(39 C)",
              "scale": {"domain": ["Laser temperature|(39 C)"], "range": ["black"]},
              "legend": {
                "title": null, "orient": "top-right", "symbolStrokeWidth": 1.2, "labelBaseline": "bottom",
                "labelExpr": "split(datum.label, '|')"
              }
            }
          }
        },
        {
          "data": {"name": "temp"},
          "mark": {"type": "line", "opacity": 0},
          "encoding": {
            "x": {
              "field": "m", "type": "quantitative",
              "scale": {"domain": [0, 1440], "nice": false},
              "axis": {"orient": "top", "labels": false, "title": null, "grid": false,
                "values": [0,60,120,180,240,300,360,420,480,540,600,660,720,780,840,900,960,1020,1080,1140,1200,1260,1320,1380,1440]}
            },
            "y": {
              "field": "t", "type": "quantitative",
              "scale": {"domain": [38, 43], "nice": false, "zero": false},
              "axis": {"orient": "right", "labels": false, "title": null, "grid": false, "values": [38,39,40,41,42,43]}
            }
          }
        }
      ]
    },
    {
      "width": 1265,
      "height": 344,
      "title": {
        "text": "Copyright: Szechenyi Istvan Geophysical Observatory (NCK, 47ᵒ\u00a0\u00a038' N, 16ᵒ\u00a0\u00a043' E)",
        "orient": "bottom", "fontSize": 21.5, "offset": 25
      },
      "layer": [
        {
          "data": {"name": "trans"},
          "mark": {"type": "line", "interpolate": "step-after", "strokeWidth": 1.1},
          "encoding": {
            "x": {
              "field": "m", "type": "quantitative",
              "scale": {"domain": [0, 1440], "nice": false},
              "axis": {
                "orient": "bottom", "title": "Hour (UTC)",
                "values": [0,60,120,180,240,300,360,420,480,540,600,660,720,780,840,900,960,1020,1080,1140,1200,1260,1320,1380,1440],
                "labelExpr": "datum.value >= 1440 ? '00' : (datum.value < 600 ? '0' : '') + floor(datum.value / 60)"
              }
            },
            "y": {
              "field": "p", "type": "quantitative",
              "scale": {"domain": [70, 100], "nice": false, "zero": false},
              "axis": {"orient": "left", "title": "LIDAR window transmission (%)", "values": [70,75,80,85,90,95,100]}
            },
            "color": {
              "datum": "transmission",
              "scale": {"domain": ["LIDAR window", "transmission", "(98%)", "80%"], "range": ["transparent", "black", "transparent", "red"]},
              "legend": {
                "title": null, "orient": "bottom-left", "rowPadding": 4, "padding": 7,
                "symbolOffset": 10.25, "labelOffset": 25.5,
                "symbolStrokeWidth": {"expr": "0 ? 0 : (datum.value === '80%' ? 2.5 : 1.2)"}
              }
            }
          }
        },
        {
          "data": {"name": "limit"},
          "mark": {"type": "line", "strokeWidth": 2.5},
          "encoding": {
            "x": {
              "field": "m", "type": "quantitative",
              "scale": {"domain": [0, 1440], "nice": false},
              "axis": {"orient": "top", "labels": false, "title": null, "grid": false,
                "values": [0,60,120,180,240,300,360,420,480,540,600,660,720,780,840,900,960,1020,1080,1140,1200,1260,1320,1380,1440]}
            },
            "y": {
              "field": "p", "type": "quantitative",
              "scale": {"domain": [70, 100], "nice": false, "zero": false},
              "axis": {"orient": "right", "labels": false, "title": null, "grid": false, "values": [70,75,80,85,90,95,100]}
            },
            "color": {"datum": "80%"}
          }
        }
      ]
    }
  ],
  "spacing": 94,
  "bounds": "flush",
  "resolve": {
    "scale": {"x": "independent", "y": "independent", "color": "independent"},
    "legend": {"color": "independent"}
  }
}
